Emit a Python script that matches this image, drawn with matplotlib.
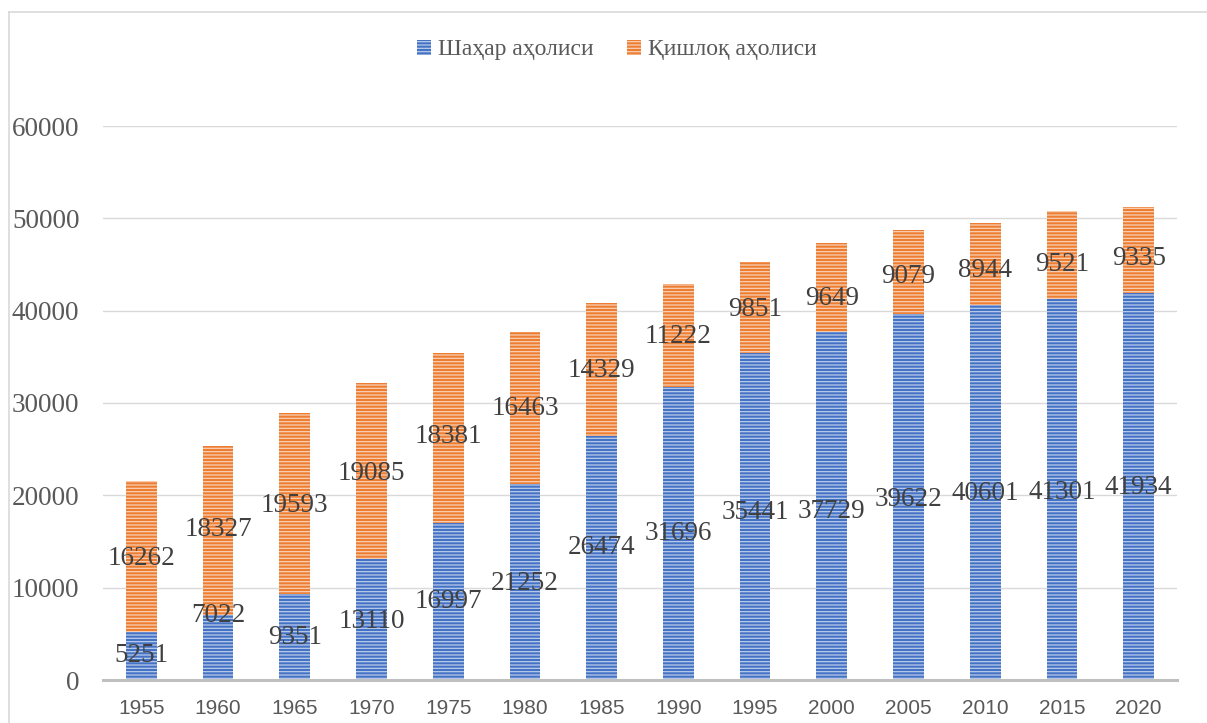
import matplotlib
matplotlib.use("Agg")
import matplotlib.pyplot as plt
import numpy as np
from matplotlib.lines import Line2D

years = ["1955", "1960", "1965", "1970", "1975", "1980", "1985",
         "1990", "1995", "2000", "2005", "2010", "2015", "2020"]
urban = [5251, 7022, 9351, 13110, 16997, 21252, 26474,
         31696, 35441, 37729, 39622, 40601, 41301, 41934]
rural = [16262, 18327, 19593, 19085, 18381, 16463, 14329,
         11222, 9851, 9649, 9079, 8944, 9521, 9335]
yticks = [0, 10000, 20000, 30000, 40000, 50000, 60000]

# where the (hand-placed) data labels sit, in data units
urban_label_y = [2700, 7000, 4650, 6300, 8450, 10500, 14300,
                 15900, 18100, 18300, 19500, 20150, 20350, 20900]
rural_label_y = [13200, 16250, 18950, 22400, 26400, 29450, 33550,
                 37250, 40150, 41350, 43750, 44400, 44950, 45600]

blue, blue_hatch = "#4472c4", "#b9cbeb"
orange, orange_hatch = "#ed7d31", "#f8cfb4"
serif = ["Liberation Serif", "DejaVu Serif"]

plt.rcParams["hatch.linewidth"] = 0.9

fig = plt.figure(figsize=(12.07, 7.23), dpi=100)
ax = fig.add_axes([103 / 1207, 1 - 680 / 723, 1074 / 1207, 554 / 723])

x = np.arange(len(years))
w = 0.40
ax.bar(x, urban, w, color=blue, edgecolor=blue_hatch, linewidth=0,
       hatch="-----", label="Шаҳар аҳолиси", zorder=2)
ax.bar(x, rural, w, bottom=urban, color=orange, edgecolor=orange_hatch,
       linewidth=0, hatch="-----", label="Қишлоқ аҳолиси", zorder=2)

for i in range(len(years)):
    ax.text(x[i], urban_label_y[i], str(urban[i]), ha="center", va="center",
            fontsize=19.5, family=serif, color="#404040", zorder=3)
    ax.text(x[i], rural_label_y[i], str(rural[i]), ha="center", va="center",
            fontsize=19.5, family=serif, color="#404040", zorder=3)

ax.set_xlim(-0.5, len(years) - 0.5)
ax.set_ylim(0, 60000)
ax.set_yticks(yticks)
ax.set_yticklabels([str(v) for v in yticks], family=serif, fontsize=19.5,
                   color="#595959")
ax.set_xticks(x)
ax.set_xticklabels(years, family="Liberation Sans", fontsize=15,
                   color="#595959")
ax.tick_params(axis="y", length=0, pad=17)
ax.tick_params(axis="x", length=0, pad=14)
ax.grid(axis="y", color="#d9d9d9", linewidth=1, zorder=0)
for s in ["top", "right", "left"]:
    ax.spines[s].set_visible(False)
ax.spines["bottom"].set_color("#bfbfbf")
ax.spines["bottom"].set_linewidth(2.2)
ax.spines["bottom"].set_zorder(4)

leg = fig.legend(loc="center", bbox_to_anchor=(0.511, 1 - 50 / 723), ncol=2,
                 frameon=False, handlelength=0.6, handleheight=0.6,
                 handletextpad=0.3, columnspacing=1.4,
                 prop={"family": serif, "size": 17})
for t in leg.get_texts():
    t.set_color("#595959")

# outer chart border (top and left edges visible)
fig.add_artist(Line2D([9 / 1207, 1], [1 - 12 / 723] * 2, color="#d9d9d9",
                      linewidth=1.2, transform=fig.transFigure))
fig.add_artist(Line2D([9 / 1207] * 2, [0, 1 - 12 / 723], color="#d9d9d9",
                      linewidth=1.2, transform=fig.transFigure))

fig.savefig("out.png", dpi=100)
